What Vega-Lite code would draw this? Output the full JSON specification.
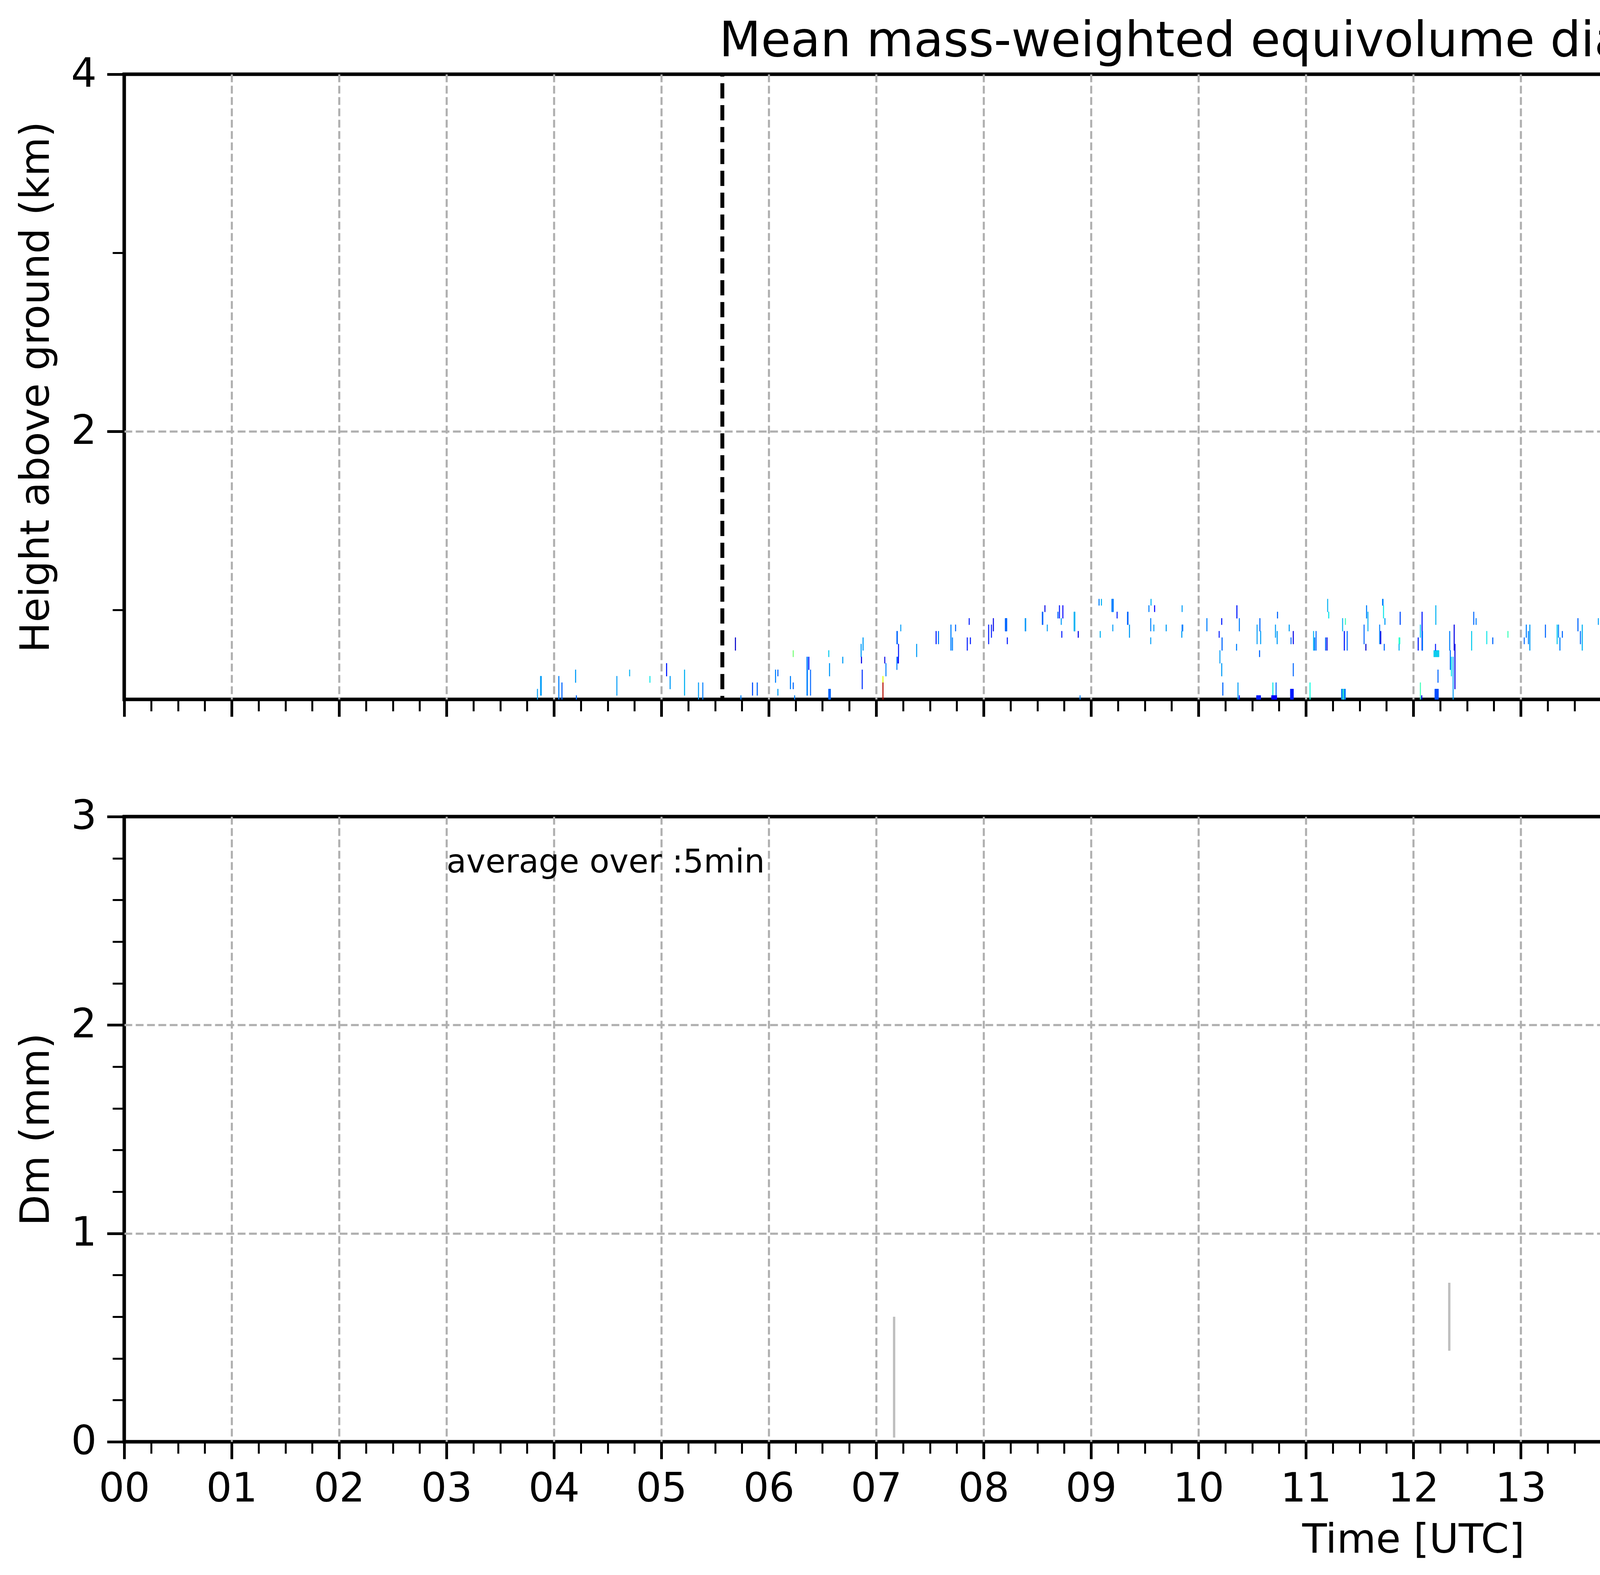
{
  "$schema": "https://vega.github.io/schema/vega-lite/v6.json",
  "background": "white",
  "padding": {"left": 37, "top": 40, "right": 40, "bottom": 20},
  "config": {
    "font": "DejaVu Sans",
    "view": {"stroke": "black", "strokeWidth": 9},
    "axis": {
      "labelFont": "DejaVu Sans", "titleFont": "DejaVu Sans",
      "labelFontSize": 103, "titleFontSize": 103,
      "labelColor": "black", "titleColor": "black", "titleFontWeight": "normal",
      "labelFlush": false, "labelOverlap": false, "labelBound": false,
      "domain": false, "tickColor": "black", "labelPadding": 27, "zindex": 1,
      "gridColor": "#b0b0b0", "gridWidth": 5.3, "gridDash": [20, 9]
    },
    "title": {"font": "DejaVu Sans", "fontWeight": "normal", "color": "black"}
  },
  "columns": 2,
  "spacing": {"row": 300, "column": 74},
  "bounds": "flush",
  "align": "each",
  "resolve": {"scale": {"x": "independent", "y": "independent"}},
  "concat": [
    {
      "width": 6600, "height": 1600,
      "title": {"text": "Mean mass-weighted equivolume diameter on 20251016", "fontSize": 124, "anchor": "middle", "frame": "group", "baseline": "alphabetic", "offset": -129},
      "encoding": {
        "x": {"field": "t0", "type": "quantitative", "scale": {"domain": [0, 24], "nice": false, "zero": false},
          "axis": {
            "values": [0,0.25,0.5,0.75,1,1.25,1.5,1.75,2,2.25,2.5,2.75,3,3.25,3.5,3.75,4,4.25,4.5,4.75,5,5.25,5.5,5.75,6,6.25,6.5,6.75,7,7.25,7.5,7.75,8,8.25,8.5,8.75,9,9.25,9.5,9.75,10,10.25,10.5,10.75,11,11.25,11.5,11.75,12,12.25,12.5,12.75,13,13.25,13.5,13.75,14,14.25,14.5,14.75,15,15.25,15.5,15.75,16,16.25,16.5,16.75,17,17.25,17.5,17.75,18,18.25,18.5,18.75,19,19.25,19.5,19.75,20,20.25,20.5,20.75,21,21.25,21.5,21.75,22,22.25,22.5,22.75,23,23.25,23.5,23.75,24],
            "labels": false, "title": null, "grid": true,
            "gridOpacity": {"condition": {"test": "datum.value % 1 !== 0 || datum.value <= 0 || datum.value >= 24", "value": 0}, "value": 1},
            "tickSize": {"condition": {"test": "datum.value % 1 !== 0 || datum.value >= 24", "value": 30}, "value": 44},
            "tickWidth": {"condition": {"test": "datum.value % 1 !== 0 || datum.value >= 24", "value": 5}, "value": 7}
          }
        }
      },
      "layer": [
        {
          "data": {"values": [{"t0": 23.88, "t1": 24, "h0": 0.5, "h1": 4}]},
          "mark": {"type": "rect", "color": "#d9d9d9"},
          "encoding": {
            "x2": {"field": "t1"},
            "y": {"field": "h0", "type": "quantitative", "scale": {"domain": [0.5, 4], "nice": false, "zero": false},
              "axis": {"values": [1, 2, 3, 4], "labelExpr": "datum.value % 2 === 0 ? format(datum.value, 'd') : ''", "title": "Height above ground (km)", "titlePadding": 35, "grid": true,
                "gridOpacity": {"condition": {"test": "datum.value !== 2", "value": 0}, "value": 1},
                "tickSize": {"condition": {"test": "datum.value % 2 !== 0", "value": 30}, "value": 44},
                "tickWidth": {"condition": {"test": "datum.value % 2 !== 0", "value": 5}, "value": 7}}},
            "y2": {"field": "h1"}
          }
        },
        {
          "data": {"values": [
            {"t0":3.844,"t1":3.850,"h0":0.5,"h1":0.558,"dm":0.56},
            {"t0":3.873,"t1":3.885,"h0":0.522,"h1":0.630,"dm":0.56},
            {"t0":4.043,"t1":4.049,"h0":0.5,"h1":0.630,"dm":0.5},
            {"t0":4.072,"t1":4.078,"h0":0.5,"h1":0.594,"dm":0.45},
            {"t0":4.199,"t1":4.205,"h0":0.594,"h1":0.666,"dm":0.56},
            {"t0":4.206,"t1":4.212,"h0":0.5,"h1":0.522,"dm":0.45},
            {"t0":4.583,"t1":4.589,"h0":0.522,"h1":0.630,"dm":0.56},
            {"t0":4.702,"t1":4.708,"h0":0.630,"h1":0.666,"dm":0.6},
            {"t0":4.891,"t1":4.897,"h0":0.594,"h1":0.630,"dm":0.7},
            {"t0":5.046,"t1":5.052,"h0":0.630,"h1":0.702,"dm":0.3},
            {"t0":5.079,"t1":5.085,"h0":0.558,"h1":0.630,"dm":0.56},
            {"t0":5.213,"t1":5.219,"h0":0.522,"h1":0.666,"dm":0.6},
            {"t0":5.343,"t1":5.349,"h0":0.5,"h1":0.594,"dm":0.56},
            {"t0":5.383,"t1":5.389,"h0":0.5,"h1":0.594,"dm":0.5},
            {"t0":5.687,"t1":5.693,"h0":0.774,"h1":0.846,"dm":0.15},
            {"t0":5.738,"t1":5.744,"h0":0.5,"h1":0.522,"dm":0.5},
            {"t0":5.846,"t1":5.852,"h0":0.522,"h1":0.594,"dm":0.4},
            {"t0":5.890,"t1":5.896,"h0":0.522,"h1":0.594,"dm":0.45},
            {"t0":6.060,"t1":6.066,"h0":0.594,"h1":0.666,"dm":0.5},
            {"t0":6.082,"t1":6.088,"h0":0.630,"h1":0.666,"dm":0.45},
            {"t0":6.082,"t1":6.088,"h0":0.522,"h1":0.558,"dm":0.56},
            {"t0":6.199,"t1":6.205,"h0":0.558,"h1":0.630,"dm":0.5},
            {"t0":6.225,"t1":6.231,"h0":0.738,"h1":0.774,"dm":1.0},
            {"t0":6.225,"t1":6.231,"h0":0.558,"h1":0.594,"dm":0.45},
            {"t0":6.238,"t1":6.244,"h0":0.5,"h1":0.522,"dm":0.5},
            {"t0":6.353,"t1":6.363,"h0":0.522,"h1":0.738,"dm":0.5},
            {"t0":6.370,"t1":6.376,"h0":0.666,"h1":0.738,"dm":0.3},
            {"t0":6.386,"t1":6.392,"h0":0.522,"h1":0.666,"dm":0.45},
            {"t0":6.556,"t1":6.562,"h0":0.738,"h1":0.774,"dm":0.65},
            {"t0":6.563,"t1":6.569,"h0":0.630,"h1":0.702,"dm":0.55},
            {"t0":6.556,"t1":6.576,"h0":0.5,"h1":0.558,"dm":0.45},
            {"t0":6.686,"t1":6.692,"h0":0.702,"h1":0.738,"dm":0.56},
            {"t0":6.857,"t1":6.863,"h0":0.738,"h1":0.810,"dm":0.56},
            {"t0":6.860,"t1":6.866,"h0":0.702,"h1":0.738,"dm":0.2},
            {"t0":6.867,"t1":6.873,"h0":0.558,"h1":0.666,"dm":0.35},
            {"t0":6.875,"t1":6.881,"h0":0.774,"h1":0.846,"dm":0.56},
            {"t0":7.060,"t1":7.066,"h0":0.594,"h1":0.630,"dm":1.25},
            {"t0":7.060,"t1":7.066,"h0":0.5,"h1":0.594,"dm":1.9},
            {"t0":7.077,"t1":7.083,"h0":0.702,"h1":0.738,"dm":0.2},
            {"t0":7.088,"t1":7.094,"h0":0.630,"h1":0.702,"dm":0.5},
            {"t0":7.190,"t1":7.200,"h0":0.810,"h1":0.882,"dm":0.45},
            {"t0":7.190,"t1":7.196,"h0":0.666,"h1":0.738,"dm":0.5},
            {"t0":7.200,"t1":7.210,"h0":0.702,"h1":0.738,"dm":0.25},
            {"t0":7.205,"t1":7.211,"h0":0.738,"h1":0.810,"dm":0.3},
            {"t0":7.226,"t1":7.232,"h0":0.882,"h1":0.918,"dm":0.56},
            {"t0":7.374,"t1":7.380,"h0":0.738,"h1":0.810,"dm":0.56},
            {"t0":7.555,"t1":7.561,"h0":0.810,"h1":0.882,"dm":0.3},
            {"t0":7.577,"t1":7.583,"h0":0.810,"h1":0.882,"dm":0.5},
            {"t0":7.693,"t1":7.699,"h0":0.774,"h1":0.918,"dm":0.5},
            {"t0":7.707,"t1":7.713,"h0":0.774,"h1":0.846,"dm":0.5},
            {"t0":7.736,"t1":7.742,"h0":0.882,"h1":0.918,"dm":0.45},
            {"t0":7.845,"t1":7.851,"h0":0.774,"h1":0.846,"dm":0.3},
            {"t0":7.874,"t1":7.880,"h0":0.810,"h1":0.846,"dm":0.3},
            {"t0":7.863,"t1":7.869,"h0":0.918,"h1":0.954,"dm":0.3},
            {"t0":8.044,"t1":8.050,"h0":0.810,"h1":0.918,"dm":0.3},
            {"t0":8.070,"t1":8.076,"h0":0.846,"h1":0.918,"dm":0.3},
            {"t0":8.088,"t1":8.094,"h0":0.882,"h1":0.954,"dm":0.2},
            {"t0":8.200,"t1":8.218,"h0":0.882,"h1":0.954,"dm":0.45},
            {"t0":8.218,"t1":8.224,"h0":0.810,"h1":0.846,"dm":0.3},
            {"t0":8.385,"t1":8.395,"h0":0.882,"h1":0.954,"dm":0.55},
            {"t0":8.544,"t1":8.554,"h0":0.918,"h1":0.990,"dm":0.45},
            {"t0":8.568,"t1":8.574,"h0":0.990,"h1":1.026,"dm":0.2},
            {"t0":8.590,"t1":8.596,"h0":0.882,"h1":0.918,"dm":0.56},
            {"t0":8.689,"t1":8.695,"h0":0.954,"h1":0.990,"dm":0.45},
            {"t0":8.703,"t1":8.709,"h0":0.954,"h1":1.026,"dm":0.3},
            {"t0":8.720,"t1":8.726,"h0":0.918,"h1":0.954,"dm":0.56},
            {"t0":8.735,"t1":8.741,"h0":0.954,"h1":1.026,"dm":0.25},
            {"t0":8.725,"t1":8.731,"h0":0.846,"h1":0.882,"dm":0.3},
            {"t0":8.840,"t1":8.852,"h0":0.882,"h1":0.990,"dm":0.6},
            {"t0":8.878,"t1":8.884,"h0":0.846,"h1":0.882,"dm":0.2},
            {"t0":8.895,"t1":8.901,"h0":0.5,"h1":0.522,"dm":0.5},
            {"t0":9.072,"t1":9.078,"h0":1.026,"h1":1.062,"dm":0.5},
            {"t0":9.094,"t1":9.100,"h0":1.026,"h1":1.062,"dm":0.6},
            {"t0":9.083,"t1":9.089,"h0":0.846,"h1":0.882,"dm":0.6},
            {"t0":9.192,"t1":9.210,"h0":0.990,"h1":1.062,"dm":0.5},
            {"t0":9.200,"t1":9.206,"h0":0.882,"h1":0.918,"dm":0.56},
            {"t0":9.240,"t1":9.246,"h0":0.954,"h1":0.990,"dm":0.3},
            {"t0":9.337,"t1":9.347,"h0":0.918,"h1":0.990,"dm":0.45},
            {"t0":9.355,"t1":9.361,"h0":0.846,"h1":0.918,"dm":0.56},
            {"t0":9.536,"t1":9.542,"h0":0.990,"h1":1.026,"dm":0.5},
            {"t0":9.553,"t1":9.559,"h0":0.882,"h1":0.954,"dm":0.5},
            {"t0":9.553,"t1":9.559,"h0":0.810,"h1":0.846,"dm":0.56},
            {"t0":9.556,"t1":9.562,"h0":1.026,"h1":1.062,"dm":0.6},
            {"t0":9.582,"t1":9.588,"h0":0.882,"h1":0.918,"dm":0.56},
            {"t0":9.589,"t1":9.595,"h0":0.990,"h1":1.026,"dm":0.25},
            {"t0":9.697,"t1":9.703,"h0":0.882,"h1":0.918,"dm":0.56},
            {"t0":9.845,"t1":9.851,"h0":0.990,"h1":1.026,"dm":0.56},
            {"t0":9.845,"t1":9.857,"h0":0.882,"h1":0.918,"dm":0.5},
            {"t0":9.842,"t1":9.848,"h0":0.846,"h1":0.882,"dm":0.56},
            {"t0":10.076,"t1":10.082,"h0":0.882,"h1":0.954,"dm":0.5},
            {"t0":10.190,"t1":10.196,"h0":0.846,"h1":0.882,"dm":0.3},
            {"t0":10.197,"t1":10.203,"h0":0.702,"h1":0.774,"dm":0.56},
            {"t0":10.217,"t1":10.223,"h0":0.774,"h1":0.846,"dm":0.45},
            {"t0":10.214,"t1":10.220,"h0":0.630,"h1":0.702,"dm":0.56},
            {"t0":10.224,"t1":10.230,"h0":0.522,"h1":0.594,"dm":0.45},
            {"t0":10.214,"t1":10.220,"h0":0.918,"h1":0.954,"dm":0.3},
            {"t0":10.355,"t1":10.361,"h0":0.954,"h1":1.026,"dm":0.3},
            {"t0":10.378,"t1":10.384,"h0":0.882,"h1":0.954,"dm":0.5},
            {"t0":10.352,"t1":10.358,"h0":0.774,"h1":0.810,"dm":0.5},
            {"t0":10.365,"t1":10.371,"h0":0.5,"h1":0.594,"dm":0.56},
            {"t0":10.378,"t1":10.384,"h0":0.5,"h1":0.522,"dm":0.3},
            {"t0":10.543,"t1":10.549,"h0":0.810,"h1":0.918,"dm":0.56},
            {"t0":10.566,"t1":10.572,"h0":0.738,"h1":0.774,"dm":0.45},
            {"t0":10.569,"t1":10.575,"h0":0.882,"h1":0.954,"dm":0.45},
            {"t0":10.576,"t1":10.582,"h0":0.810,"h1":0.882,"dm":0.56},
            {"t0":10.540,"t1":10.580,"h0":0.5,"h1":0.522,"dm":0.3},
            {"t0":10.690,"t1":10.696,"h0":0.522,"h1":0.594,"dm":0.7},
            {"t0":10.714,"t1":10.720,"h0":0.846,"h1":0.918,"dm":0.56},
            {"t0":10.720,"t1":10.726,"h0":0.522,"h1":0.594,"dm":0.45},
            {"t0":10.730,"t1":10.736,"h0":0.810,"h1":0.882,"dm":0.56},
            {"t0":10.733,"t1":10.739,"h0":0.954,"h1":0.990,"dm":0.45},
            {"t0":10.680,"t1":10.730,"h0":0.5,"h1":0.522,"dm":0.25},
            {"t0":10.842,"t1":10.848,"h0":0.882,"h1":0.918,"dm":0.56},
            {"t0":10.859,"t1":10.865,"h0":0.810,"h1":0.846,"dm":0.45},
            {"t0":10.880,"t1":10.886,"h0":0.810,"h1":0.882,"dm":0.2},
            {"t0":10.880,"t1":10.886,"h0":0.630,"h1":0.702,"dm":0.45},
            {"t0":10.855,"t1":10.885,"h0":0.5,"h1":0.558,"dm":0.3},
            {"t0":11.036,"t1":11.042,"h0":0.5,"h1":0.594,"dm":0.75},
            {"t0":11.069,"t1":11.075,"h0":0.774,"h1":0.882,"dm":0.6},
            {"t0":11.079,"t1":11.085,"h0":0.774,"h1":0.846,"dm":0.5},
            {"t0":11.092,"t1":11.098,"h0":0.774,"h1":0.882,"dm":0.45},
            {"t0":11.181,"t1":11.187,"h0":0.774,"h1":0.846,"dm":0.45},
            {"t0":11.194,"t1":11.200,"h0":0.774,"h1":0.846,"dm":0.2},
            {"t0":11.200,"t1":11.206,"h0":0.990,"h1":1.062,"dm":0.6},
            {"t0":11.210,"t1":11.216,"h0":0.954,"h1":0.990,"dm":0.7},
            {"t0":11.339,"t1":11.345,"h0":0.882,"h1":0.954,"dm":0.6},
            {"t0":11.355,"t1":11.361,"h0":0.774,"h1":0.882,"dm":0.3},
            {"t0":11.365,"t1":11.371,"h0":0.918,"h1":0.954,"dm":0.85},
            {"t0":11.382,"t1":11.388,"h0":0.774,"h1":0.882,"dm":0.45},
            {"t0":11.330,"t1":11.370,"h0":0.5,"h1":0.558,"dm":0.5},
            {"t0":11.345,"t1":11.351,"h0":0.5,"h1":0.558,"dm":0.85},
            {"t0":11.539,"t1":11.545,"h0":0.810,"h1":0.918,"dm":0.45},
            {"t0":11.556,"t1":11.562,"h0":0.774,"h1":0.810,"dm":0.15},
            {"t0":11.562,"t1":11.568,"h0":0.954,"h1":1.026,"dm":0.5},
            {"t0":11.575,"t1":11.581,"h0":0.882,"h1":0.990,"dm":0.6},
            {"t0":11.684,"t1":11.690,"h0":0.810,"h1":0.918,"dm":0.5},
            {"t0":11.694,"t1":11.700,"h0":0.810,"h1":0.882,"dm":0.2},
            {"t0":11.711,"t1":11.721,"h0":1.026,"h1":1.062,"dm":0.5},
            {"t0":11.720,"t1":11.726,"h0":0.954,"h1":1.026,"dm":0.7},
            {"t0":11.727,"t1":11.733,"h0":0.774,"h1":0.810,"dm":0.45},
            {"t0":11.733,"t1":11.739,"h0":0.918,"h1":0.954,"dm":0.56},
            {"t0":11.865,"t1":11.877,"h0":0.810,"h1":0.846,"dm":0.8},
            {"t0":11.875,"t1":11.881,"h0":0.918,"h1":0.990,"dm":0.4},
            {"t0":11.865,"t1":11.871,"h0":0.774,"h1":0.810,"dm":0.6},
            {"t0":12.043,"t1":12.049,"h0":0.774,"h1":0.846,"dm":0.3},
            {"t0":12.063,"t1":12.069,"h0":0.846,"h1":0.918,"dm":0.65},
            {"t0":12.063,"t1":12.069,"h0":0.5,"h1":0.594,"dm":0.85},
            {"t0":12.079,"t1":12.085,"h0":0.774,"h1":0.990,"dm":0.3},
            {"t0":12.083,"t1":12.089,"h0":0.774,"h1":0.882,"dm":0.5},
            {"t0":12.076,"t1":12.082,"h0":0.5,"h1":0.522,"dm":0.2},
            {"t0":12.190,"t1":12.240,"h0":0.738,"h1":0.774,"dm":0.65},
            {"t0":12.207,"t1":12.213,"h0":0.918,"h1":1.026,"dm":0.6},
            {"t0":12.204,"t1":12.210,"h0":0.774,"h1":0.810,"dm":0.3},
            {"t0":12.227,"t1":12.233,"h0":0.594,"h1":0.666,"dm":0.45},
            {"t0":12.200,"t1":12.235,"h0":0.5,"h1":0.558,"dm":0.4},
            {"t0":12.336,"t1":12.342,"h0":0.774,"h1":0.882,"dm":0.5},
            {"t0":12.342,"t1":12.348,"h0":0.666,"h1":0.774,"dm":0.45},
            {"t0":12.352,"t1":12.358,"h0":0.630,"h1":0.738,"dm":0.7},
            {"t0":12.368,"t1":12.374,"h0":0.5,"h1":0.738,"dm":0.56},
            {"t0":12.378,"t1":12.384,"h0":0.774,"h1":0.918,"dm":0.2},
            {"t0":12.385,"t1":12.391,"h0":0.558,"h1":0.810,"dm":0.2},
            {"t0":12.540,"t1":12.546,"h0":0.774,"h1":0.882,"dm":0.65},
            {"t0":12.560,"t1":12.566,"h0":0.918,"h1":0.990,"dm":0.45},
            {"t0":12.582,"t1":12.588,"h0":0.918,"h1":0.954,"dm":0.5},
            {"t0":12.681,"t1":12.687,"h0":0.810,"h1":0.882,"dm":0.7},
            {"t0":12.737,"t1":12.743,"h0":0.810,"h1":0.846,"dm":0.45},
            {"t0":12.878,"t1":12.884,"h0":0.846,"h1":0.882,"dm":0.85},
            {"t0":13.030,"t1":13.036,"h0":0.810,"h1":0.846,"dm":0.45},
            {"t0":13.049,"t1":13.055,"h0":0.846,"h1":0.918,"dm":0.5},
            {"t0":13.069,"t1":13.075,"h0":0.810,"h1":0.882,"dm":0.5},
            {"t0":13.082,"t1":13.088,"h0":0.774,"h1":0.918,"dm":0.56},
            {"t0":13.227,"t1":13.233,"h0":0.846,"h1":0.918,"dm":0.45},
            {"t0":13.336,"t1":13.342,"h0":0.810,"h1":0.918,"dm":0.65},
            {"t0":13.349,"t1":13.355,"h0":0.846,"h1":0.918,"dm":0.5},
            {"t0":13.362,"t1":13.368,"h0":0.774,"h1":0.846,"dm":0.5},
            {"t0":13.385,"t1":13.391,"h0":0.846,"h1":0.882,"dm":0.45},
            {"t0":13.530,"t1":13.536,"h0":0.882,"h1":0.954,"dm":0.45},
            {"t0":13.553,"t1":13.559,"h0":0.810,"h1":0.882,"dm":0.45},
            {"t0":13.570,"t1":13.576,"h0":0.774,"h1":0.918,"dm":0.6},
            {"t0":13.720,"t1":13.726,"h0":0.918,"h1":0.954,"dm":0.56},
            {"t0":13.829,"t1":13.835,"h0":0.846,"h1":0.954,"dm":0.5},
            {"t0":13.836,"t1":13.842,"h0":0.918,"h1":0.954,"dm":0.45},
            {"t0":19.520,"t1":19.532,"h0":1.457,"h1":1.530,"dm":0.6},
            {"t0":19.520,"t1":19.530,"h0":1.420,"h1":1.457,"dm":0.7},
            {"t0":19.530,"t1":19.538,"h0":1.420,"h1":1.457,"dm":0.15},
            {"t0":19.520,"t1":19.532,"h0":1.349,"h1":1.386,"dm":0.55},
            {"t0":19.525,"t1":19.531,"h0":1.311,"h1":1.349,"dm":0.65},
            {"t0":19.531,"t1":19.539,"h0":1.311,"h1":1.349,"dm":0.15},
            {"t0":20.190,"t1":20.196,"h0":0.774,"h1":0.846,"dm":0.56},
            {"t0":20.220,"t1":20.226,"h0":0.810,"h1":0.882,"dm":0.6},
            {"t0":23.180,"t1":23.186,"h0":1.602,"h1":1.638,"dm":0.56},
            {"t0":23.355,"t1":23.375,"h0":1.602,"h1":1.638,"dm":0.45},
            {"t0":23.575,"t1":23.581,"h0":1.602,"h1":1.638,"dm":0.56},
            {"t0":23.585,"t1":23.591,"h0":1.602,"h1":1.638,"dm":0.56}
          ]},
          "mark": {"type": "rect", "strokeWidth": 1},
          "encoding": {
            "x2": {"field": "t1"},
            "y": {"field": "h0", "type": "quantitative", "scale": {"domain": [0.5, 4], "nice": false, "zero": false},
              "axis": {"values": [1, 2, 3, 4], "labelExpr": "datum.value % 2 === 0 ? format(datum.value, 'd') : ''", "title": "Height above ground (km)", "titlePadding": 35, "grid": true,
                "gridOpacity": {"condition": {"test": "datum.value !== 2", "value": 0}, "value": 1},
                "tickSize": {"condition": {"test": "datum.value % 2 !== 0", "value": 30}, "value": 44},
                "tickWidth": {"condition": {"test": "datum.value % 2 !== 0", "value": 5}, "value": 7}}},
            "y2": {"field": "h1"},
            "color": {"field": "dm", "type": "quantitative", "legend": null,
              "scale": {"type": "linear", "domain": [0, 0.25, 0.5, 0.75, 1, 1.25, 1.5, 1.75, 2],
                "range": ["#000080", "#0000ff", "#0080ff", "#14ffe2", "#7bff7b", "#e2ff15", "#ff9700", "#ff2100", "#800000"],
                "interpolate": "rgb", "clamp": true}},
            "stroke": {"field": "dm", "type": "quantitative", "legend": null,
              "scale": {"type": "linear", "domain": [0, 0.25, 0.5, 0.75, 1, 1.25, 1.5, 1.75, 2],
                "range": ["#000080", "#0000ff", "#0080ff", "#14ffe2", "#7bff7b", "#e2ff15", "#ff9700", "#ff2100", "#800000"],
                "interpolate": "rgb", "clamp": true}}
          }
        },
        {
          "data": {"values": [{"t0": 5.568}, {"t0": 16.382}]},
          "mark": {"type": "rule", "color": "black", "strokeWidth": 10, "strokeDash": [39, 17], "strokeDashOffset": 33},
          "encoding": {}
        }
      ]
    },
    {
      "width": 113, "height": 1600,
      "view": {"stroke": null},
      "data": {"values": [{"c0": 0, "c1": 1, "lo": 0, "hi": 2}]},
      "mark": {"type": "rect", "stroke": "black", "strokeWidth": 5,
        "color": {"gradient": "linear", "x1": 0, "y1": 1, "x2": 0, "y2": 0,
          "stops": [
            {"offset": 0, "color": "#000080"},
            {"offset": 0.125, "color": "#0000ff"},
            {"offset": 0.25, "color": "#0080ff"},
            {"offset": 0.375, "color": "#14ffe2"},
            {"offset": 0.5, "color": "#7bff7b"},
            {"offset": 0.625, "color": "#e2ff15"},
            {"offset": 0.75, "color": "#ff9700"},
            {"offset": 0.875, "color": "#ff2100"},
            {"offset": 1, "color": "#800000"}
          ]}},
      "encoding": {
        "x": {"field": "c0", "type": "quantitative", "scale": {"domain": [0, 1], "nice": false}, "axis": null},
        "x2": {"field": "c1"},
        "y": {"field": "lo", "type": "quantitative", "scale": {"domain": [0, 2], "nice": false},
          "axis": {"orient": "right", "values": [0, 0.4, 0.8, 1.2, 1.6, 2.0], "format": ".1f", "grid": false,
            "tickSize": 19, "tickWidth": 5, "labelPadding": 24, "labelFontSize": 81,
            "title": "Dm (mm)", "titleFontSize": 81, "titleAngle": 270, "titleBaseline": "top", "titlePadding": 30}},
        "y2": {"field": "hi"}
      }
    },
    {
      "width": 6600, "height": 1600,
      "encoding": {
        "x": {"field": "t0", "type": "quantitative", "scale": {"domain": [0, 24], "nice": false, "zero": false},
          "axis": {
            "values": [0,0.25,0.5,0.75,1,1.25,1.5,1.75,2,2.25,2.5,2.75,3,3.25,3.5,3.75,4,4.25,4.5,4.75,5,5.25,5.5,5.75,6,6.25,6.5,6.75,7,7.25,7.5,7.75,8,8.25,8.5,8.75,9,9.25,9.5,9.75,10,10.25,10.5,10.75,11,11.25,11.5,11.75,12,12.25,12.5,12.75,13,13.25,13.5,13.75,14,14.25,14.5,14.75,15,15.25,15.5,15.75,16,16.25,16.5,16.75,17,17.25,17.5,17.75,18,18.25,18.5,18.75,19,19.25,19.5,19.75,20,20.25,20.5,20.75,21,21.25,21.5,21.75,22,22.25,22.5,22.75,23,23.25,23.5,23.75,24],
            "labelExpr": "datum.value % 1 === 0 && datum.value < 24 ? format(datum.value, '02d') : ''",
            "title": "Time [UTC]", "titlePadding": 29, "grid": true,
            "gridOpacity": {"condition": {"test": "datum.value % 1 !== 0 || datum.value <= 0 || datum.value >= 24", "value": 0}, "value": 1},
            "tickSize": {"condition": {"test": "datum.value % 1 !== 0 || datum.value >= 24", "value": 30}, "value": 44},
            "tickWidth": {"condition": {"test": "datum.value % 1 !== 0 || datum.value >= 24", "value": 5}, "value": 7}
          }
        },
        "y": {"field": "v0", "type": "quantitative", "scale": {"domain": [0, 3], "nice": false, "zero": false},
          "axis": {"values": [0,0.2,0.4,0.6,0.8,1,1.2,1.4,1.6,1.8,2,2.2,2.4,2.6,2.8,3],
            "labelExpr": "datum.value % 1 === 0 ? format(datum.value, 'd') : ''",
            "title": "Dm (mm)", "titlePadding": 35, "grid": true,
            "gridOpacity": {"condition": {"test": "datum.value % 1 !== 0 || datum.value <= 0 || datum.value >= 3", "value": 0}, "value": 1},
            "tickSize": {"condition": {"test": "datum.value % 1 !== 0", "value": 30}, "value": 44},
            "tickWidth": {"condition": {"test": "datum.value % 1 !== 0", "value": 5}, "value": 7}}}
      },
      "layer": [
        {
          "data": {"values": [{"t0": 7.167, "v0": 0.02, "v1": 0.60}, {"t0": 12.335, "v0": 0.437, "v1": 0.763}]},
          "mark": {"type": "rule", "color": "#bfbfbf", "strokeWidth": 6},
          "encoding": {"y2": {"field": "v1"}}
        },
        {
          "data": {"values": [{"t0": 3.0, "v0": 2.731, "note": "average over :5min"}]},
          "mark": {"type": "text", "align": "left", "baseline": "alphabetic", "fontSize": 83, "color": "black"},
          "encoding": {"text": {"field": "note"}}
        }
      ]
    }
  ]
}
